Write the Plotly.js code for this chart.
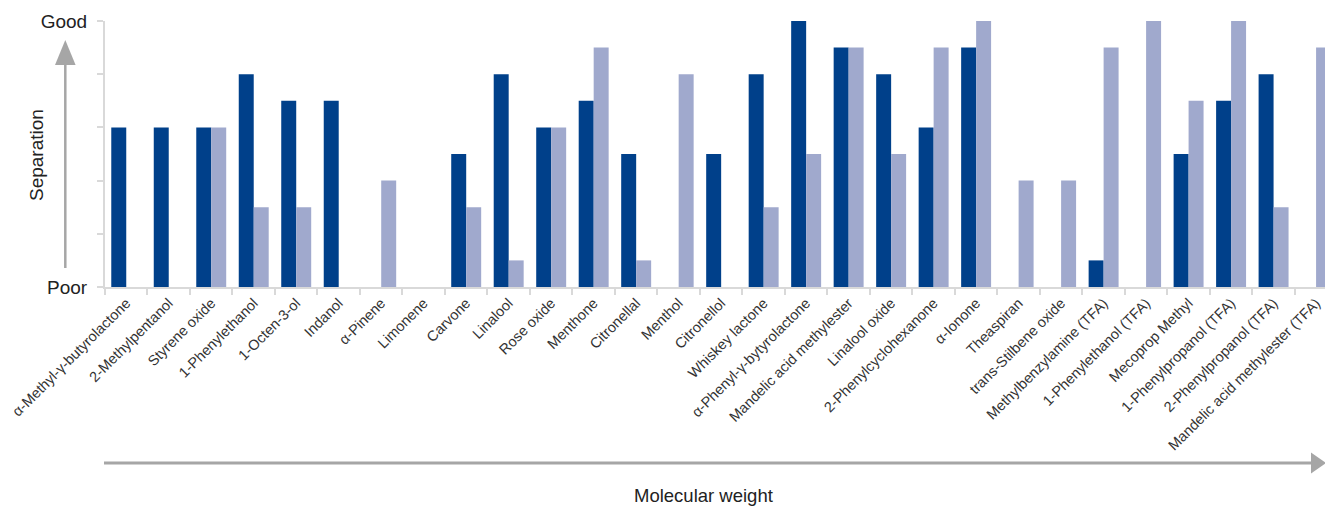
<!DOCTYPE html>
<html>
<head>
<meta charset="utf-8">
<script src="https://cdn.plot.ly/plotly-3.0.1.min.js"></script>
<style>html,body{margin:0;padding:0;background:#fff;}#chart{width:1325px;height:506px;}</style>
</head>
<body>
<div id="chart"></div>
<script>
const categories = [
  "α-Methyl-γ-butyrolactone", "2-Methylpentanol", "Styrene oxide", "1-Phenylethanol",
  "1-Octen-3-ol", "Indanol", "α-Pinene", "Limonene", "Carvone", "Linalool",
  "Rose oxide", "Menthone", "Citronellal", "Menthol", "Citronellol", "Whiskey lactone",
  "α-Phenyl-γ-bytyrolactone", "Mandelic acid methylester", "Linalool oxide",
  "2-Phenylcyclohexanone", "α-Ionone", "Theaspiran", "trans-Stilbene oxide",
  "Methylbenzylamine (TFA)", "1-Phenylethanol (TFA)", "Mecoprop Methyl",
  "1-Phenylpropanol (TFA)", "2-Phenylpropanol (TFA)", "Mandelic acid methylester (TFA)"
];
const darkValues = [6, 6, 6, 8, 7, 7, 0, 0, 5, 8, 6, 7, 5, 0, 5, 8, 10, 9, 8, 6, 9, 0, 0, 1, 0, 5, 7, 8, 0];
const lightValues = [0, 0, 6, 3, 3, 0, 4, 0, 3, 1, 6, 9, 1, 8, 0, 3, 5, 9, 5, 9, 10, 4, 4, 9, 10, 7, 10, 3, 9];
const yTickVals = [0, 2, 4, 6, 8, 10];
const yTickText = ["Poor", "", "", "", "", "Good"];
const yTitle = "Separation";
const xTitle = "Molecular weight";

const FONT = "Liberation Sans, Arial, Helvetica, sans-serif";
const AXIS_GRAY = "#d9d9d9";
const ARROW_GRAY = "#a6a6a6";

// pixel -> paper helpers (plot area: left 105, width 1220, top 21, height 266)
const L = 105, W = 1220, T = 21, H = 266, B0 = T + H;
const px = v => (v - L) / W;
const py = v => (B0 - v) / H;

const traces = [
  {type: "bar", x: categories, y: darkValues, marker: {color: "#00408a", line: {width: 0}}, hoverinfo: "skip"},
  {type: "bar", x: categories, y: lightValues, marker: {color: "#a0a9cd", line: {width: 0}}, hoverinfo: "skip"}
];

const layout = {
  width: 1325, height: 506,
  margin: {l: L, r: 0, t: T, b: 506 - B0},
  paper_bgcolor: "#fff", plot_bgcolor: "#fff",
  showlegend: false,
  hovermode: false,
  barmode: "group",
  bargap: 0.295,
  bargroupgap: 0,
  font: {family: FONT, color: "#333"},
  xaxis: {
    type: "category",
    range: [-0.5, 28.21],
    showgrid: false, zeroline: false,
    showline: true, linecolor: AXIS_GRAY, linewidth: 2,
    ticks: "outside", tickson: "boundaries", ticklen: 6, tickcolor: AXIS_GRAY, tickwidth: 2,
    tickangle: -45,
    tickfont: {family: FONT, size: 14.5, color: "#333"},
    fixedrange: true
  },
  yaxis: {
    range: [0, 10],
    showgrid: false, zeroline: false,
    showline: true, linecolor: AXIS_GRAY, linewidth: 2,
    ticks: "outside", ticklen: 6, tickcolor: AXIS_GRAY, tickwidth: 2,
    tickvals: yTickVals, ticktext: yTickText,
    tickfont: {family: FONT, size: 19, color: "#222"},
    ticklabelstandoff: 6,
    fixedrange: true
  },
  shapes: [
    // y arrow
    {type: "line", xref: "paper", yref: "paper", x0: px(65.3), x1: px(65.3), y0: py(268), y1: py(62),
     line: {color: ARROW_GRAY, width: 2.5}},
    {type: "path", xref: "paper", yref: "paper",
     path: `M ${px(65.3)} ${py(40)} L ${px(55)} ${py(65)} L ${px(75.6)} ${py(65)} Z`,
     fillcolor: ARROW_GRAY, line: {width: 0}},
    // x arrow
    {type: "line", xref: "paper", yref: "paper", x0: px(104), x1: px(1313), y0: py(463), y1: py(463),
     line: {color: ARROW_GRAY, width: 3}},
    {type: "path", xref: "paper", yref: "paper",
     path: `M ${px(1326)} ${py(463)} L ${px(1311)} ${py(452.5)} L ${px(1311)} ${py(473.5)} Z`,
     fillcolor: ARROW_GRAY, line: {width: 0}}
  ],
  annotations: [
    {text: yTitle, xref: "paper", yref: "paper", x: px(36), y: py(155), textangle: -90,
     showarrow: false, xanchor: "center", yanchor: "middle",
     font: {family: FONT, size: 19, color: "#222"}},
    {text: xTitle, xref: "paper", yref: "paper", x: px(703), y: py(496),
     showarrow: false, xanchor: "center", yanchor: "middle",
     font: {family: FONT, size: 18.5, color: "#222"}}
  ]
};

Plotly.newPlot("chart", traces, layout, {displayModeBar: false, staticPlot: true});
</script>
</body>
</html>
